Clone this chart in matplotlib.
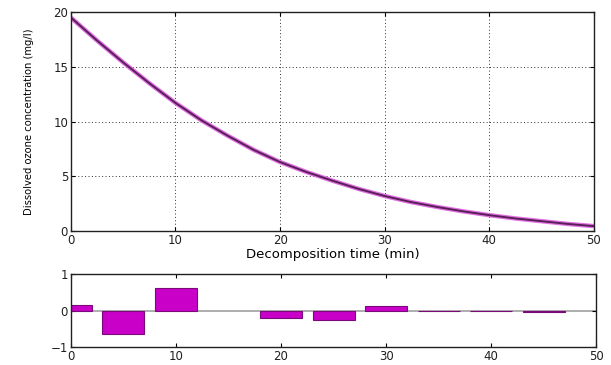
import matplotlib
matplotlib.use("Agg")
import matplotlib.pyplot as plt

# Fitted decay curve
time_curve = [0, 2.5, 5, 7.5, 10, 12.5, 15, 17.5, 20, 22.5, 25, 27.5, 30,
              32.5, 35, 37.5, 40, 42.5, 45, 47.5, 50]
conc_curve = [19.5, 17.4, 15.4, 13.5, 11.7, 10.1, 8.7, 7.4, 6.3, 5.4, 4.6, 3.85, 3.2,
              2.65, 2.2, 1.8, 1.45, 1.15, 0.9, 0.65, 0.45]

# Residuals
res_time = [0, 5, 10, 15, 20, 25, 30, 35, 40, 45, 50]
residuals = [0.16, -0.63, 0.62, 0.0, -0.2, -0.25, 0.13, -0.02, -0.02, -0.05, 0.0]

xticks = [0, 10, 20, 30, 40, 50]
yticks_top = [0, 5, 10, 15, 20]
yticks_bot = [-1, 0, 1]

fig = plt.figure(figsize=(6.11, 3.65), dpi=100)
ax1 = fig.add_axes([0.116, 0.367, 0.856, 0.600])
ax2 = fig.add_axes([0.116, 0.049, 0.860, 0.200])

ax1.plot(time_curve, conc_curve, color="#e070e0", lw=3.2, solid_capstyle="butt")
ax1.plot(time_curve, conc_curve, color="#5a1f5a", lw=1.4)
ax1.set_xlim(0, 50)
ax1.set_ylim(0, 20)
ax1.set_xticks(xticks)
ax1.set_yticks(yticks_top)
ax1.grid(True, color="#303030", linestyle=(0, (1, 2.5)), linewidth=0.7)
ax1.set_xlabel("Decomposition time (min)", fontsize=9.5, labelpad=1)
ax1.set_ylabel("Dissolved ozone concentration (mg/l)", fontsize=7.2,
               family=["Liberation Sans Narrow", "DejaVu Sans"], labelpad=14)

ax2.axhline(0, color="#a0a0a0", lw=1.2, zorder=1)
lws = [0.8 if v != 0 else 0 for v in residuals]
ax2.bar(res_time, residuals, width=4, color="#c800c8", edgecolor="#7a0a7a",
        linewidth=lws, zorder=2)
ax2.set_xlim(0, 50)
ax2.set_ylim(-1, 1)
ax2.set_xticks(xticks)
ax2.set_yticks(yticks_bot)

for ax in (ax1, ax2):
    ax.tick_params(direction="in", top=True, right=True, labelsize=8.5,
                   length=3, width=0.8, pad=2, labelcolor="#202020")
    for s in ax.spines.values():
        s.set_linewidth(1.0)
        s.set_color("#202020")

fig.savefig("out.png", dpi=100)
